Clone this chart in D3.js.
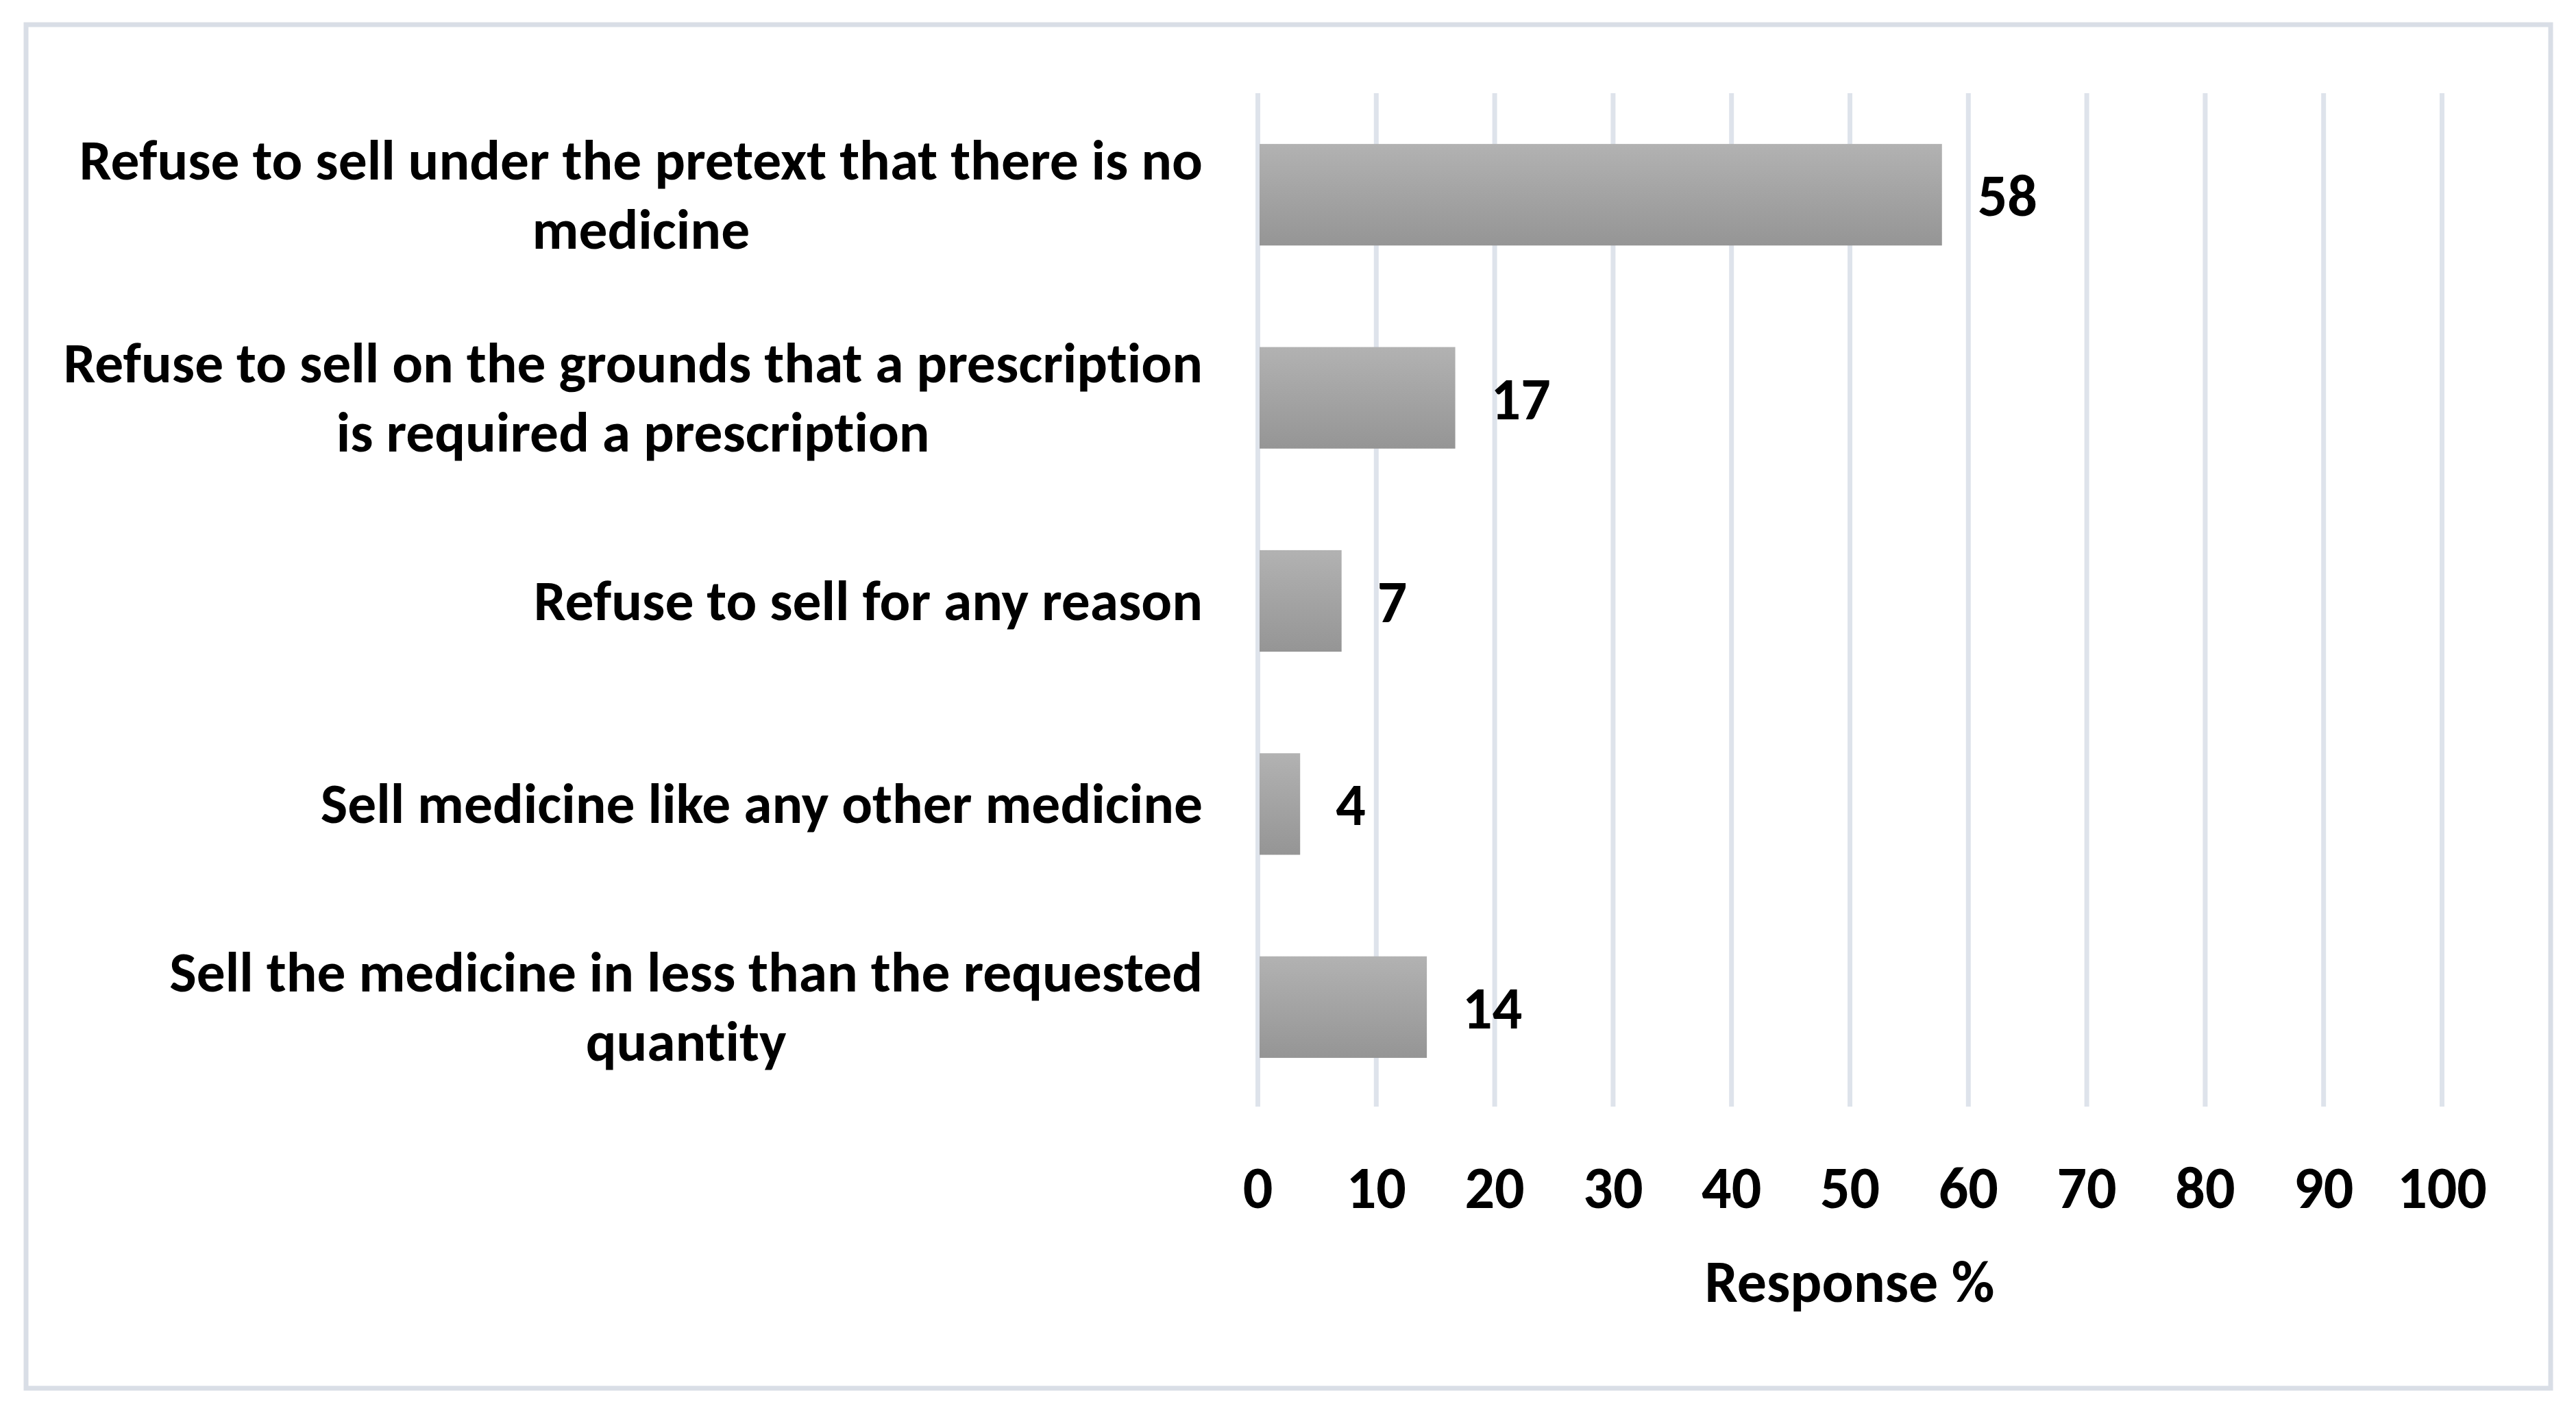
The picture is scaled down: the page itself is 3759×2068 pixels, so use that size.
<!DOCTYPE html>
<html>
<head>
<meta charset="utf-8">
<script src="https://cdn.jsdelivr.net/npm/d3@7/dist/d3.min.js"></script>
<style>
    body { margin:0; background:white; }
    text { font-family: Carlito, Calibri, Lato, sans-serif; font-weight:bold; fill:black; font-variant-ligatures:none; }
</style>
</head>
<body>
<svg id="chart"></svg>
<script>
    // responses, top to bottom
    const labelLines = [
        ["Refuse to sell under the pretext that there is no", "medicine"],
        ["Refuse to sell on the grounds that a prescription", "is required a prescription"],
        ["Refuse to sell for any reason"],
        ["Sell medicine like any other medicine"],
        ["Sell the medicine in less than the requested", "quantity"]
    ];
    const values = [57.8, 16.7, 7.1, 3.6, 14.3];
    const xTicks = [0, 10, 20, 30, 40, 50, 60, 70, 80, 90, 100];
    const xTitle = "Response %";

    const W = 3759, H = 2068;
    const fs = 86;      // ticks, values, title
    const fsCat = 83.5; // category labels
    const plotTop = 136, plotBottom = 1618;
    const x0 = 1835, x1 = 3563;
    const labelRight = 1755;

    const svg = d3.select('#chart').attr('width', W).attr('height', H);

    // frame
    svg.append('rect')
        .attr('x', 38).attr('y', 36).attr('width', 3684).attr('height', 1990)
        .style('fill', 'white').style('stroke', '#d9dee6').style('stroke-width', 7);

    const grad = svg.append('defs').append('linearGradient')
        .attr('id', 'barGrad').attr('x1', 0).attr('y1', 0).attr('x2', 0).attr('y2', 1);
    grad.append('stop').attr('offset', '0%').attr('stop-color', '#b2b2b2');
    grad.append('stop').attr('offset', '100%').attr('stop-color', '#959595');

    const ids = d3.range(values.length);
    const x = d3.scaleLinear().domain([0, 100]).range([x0, x1]);
    const y = d3.scaleBand().domain(ids).range([plotTop, plotBottom])
        .paddingInner(0.5).paddingOuter(0.25);

    // gridlines + tick labels
    const axis = svg.append('g')
        .attr('transform', `translate(0,${plotBottom - 3})`)
        .call(d3.axisBottom(x).tickValues(xTicks).tickSize(-(plotBottom - 3 - plotTop)).tickFormat(d3.format('d')));
    axis.select('.domain').remove();
    axis.selectAll('.tick line').style('stroke', '#dee3eb').style('stroke-width', 7);
    axis.selectAll('.tick text')
        .attr('y', 1763 - (plotBottom - 3)).attr('dy', 0)
        .style('font-size', fs + 'px');

    svg.append('text')
        .attr('x', (x0 + x1) / 2).attr('y', 1900)
        .attr('text-anchor', 'middle')
        .style('font-size', fs + 'px')
        .text(xTitle);

    // bars
    svg.selectAll('.bar').data(values).join('rect')
        .attr('class', 'bar')
        .attr('x', x(0) + 3)
        .attr('y', (d, i) => y(i))
        .attr('width', d => x(d) - x(0) - 3)
        .attr('height', y.bandwidth())
        .style('fill', 'url(#barGrad)');

    // value labels
    svg.selectAll('.val').data(values).join('text')
        .attr('class', 'val')
        .attr('x', d => x(d) + 52)
        .attr('y', (d, i) => y(i) + y.bandwidth() / 2 + 31)
        .style('font-size', fs + 'px')
        .text(d => d3.format('.0f')(d));

    // category labels: block right aligned, lines centred in block
    const lineH = 101;
    labelLines.forEach((lines, i) => {
        const cy = y(i) + y.bandwidth() / 2;
        const g = svg.append('g');
        const t = g.selectAll('text').data(lines).join('text')
            .attr('text-anchor', 'middle')
            .attr('y', (d, k) => cy + (k - (lines.length - 1) / 2) * lineH + 28)
            .style('font-size', fsCat + 'px')
            .text(d => d);
        let maxW = 0;
        t.each(function() { maxW = Math.max(maxW, this.getComputedTextLength()); });
        t.attr('x', labelRight - maxW / 2);
    });
</script>
</body>
</html>
